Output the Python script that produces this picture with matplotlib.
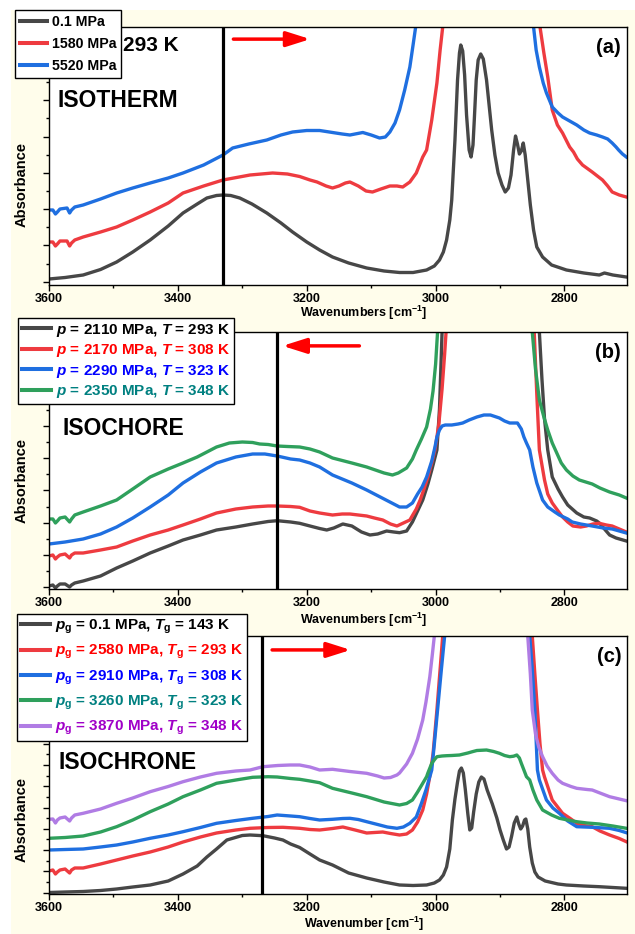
import numpy as np
import matplotlib
matplotlib.use("Agg")
import matplotlib.pyplot as plt
from matplotlib.ticker import MultipleLocator
from matplotlib.patches import Rectangle

plt.rcParams['font.family'] = ['Liberation Sans', 'DejaVu Sans']
plt.rcParams['font.weight'] = 'bold'
plt.rcParams['mathtext.fontset'] = 'custom'
plt.rcParams['mathtext.rm'] = 'Liberation Sans:bold'
plt.rcParams['mathtext.it'] = 'Liberation Sans:italic:bold'
plt.rcParams['mathtext.bf'] = 'Liberation Sans:bold'

GRAY, RED, BLUE, GREEN, PURPLE = '#474747', '#ee3b40', '#1f6fe0', '#2fa05c', '#b07ce4'
CREAM = '#fffdeb'

# ---- (a) isotherm, 293 K : (wavenumber, absorbance a.u.) ----
a_01 = [(3600, 6), (3575, 7.5), (3547, 10), (3520, 15.5), (3495, 23), (3470, 33), (3443, 45), (3415, 59),
        (3392, 72), (3370, 81), (3355, 87), (3340, 89.5), (3330, 90), (3318, 89.5), (3304, 87), (3285, 81),
        (3262, 72), (3240, 62), (3222, 53), (3200, 43), (3180, 35), (3160, 28), (3135, 22), (3107, 17),
        (3080, 14), (3056, 12.5), (3035, 12.5), (3014, 15), (3002, 19), (2994, 25), (2988, 33), (2983, 45),
        (2978, 65), (2975, 85), (2970, 145), (2966, 205), (2963, 232), (2961, 240), (2958, 234), (2955, 210),
        (2952, 170), (2948, 135), (2945, 128), (2942, 140), (2940, 165), (2937, 205), (2934, 225), (2930, 231),
        (2926, 226), (2921, 205), (2917, 180), (2913, 155), (2908, 130), (2903, 112), (2897, 100), (2892, 93),
        (2887, 97), (2883, 110), (2879, 135), (2876, 149), (2873, 141), (2870, 131), (2867, 134), (2864, 142),
        (2861, 130), (2857, 105), (2853, 80), (2848, 55), (2843, 38),
        (2834, 28), (2820, 20), (2797, 15), (2770, 12), (2746, 10), (2738, 12), (2725, 10), (2704, 8)]
a_1580 = [(3600, 43), (3594, 43), (3590, 39), (3587, 41), (3583, 44), (3572, 44), (3568, 39), (3565, 42),
          (3560, 45), (3547, 48), (3520, 53), (3495, 58), (3470, 65), (3443, 73), (3415, 82), (3392, 92),
          (3360, 99), (3330, 105), (3288, 110), (3253, 112), (3230, 111), (3211, 108.5), (3195, 105),
          (3184, 103), (3170, 99), (3160, 97), (3150, 99), (3140, 102), (3133, 103), (3120, 99), (3108, 94),
          (3098, 93), (3085, 96), (3071, 99), (3060, 99), (3051, 98), (3040, 103), (3030, 112), (3020, 128),
          (3014, 135), (3006, 165), (2998, 202), (2993, 235), (2989, 258), (2985, 300),
          (2845, 300), (2838, 258), (2832, 232), (2826, 208), (2819, 175), (2811, 160), (2803, 152),
          (2792, 138), (2786, 133), (2780, 126), (2772, 120), (2757, 113), (2741, 105), (2733, 99),
          (2726, 93), (2715, 90), (2704, 88)]
a_5520 = [(3600, 75), (3594, 75), (3590, 71), (3587, 73), (3583, 76), (3572, 77), (3568, 72), (3565, 75),
          (3560, 78), (3547, 80), (3520, 86), (3495, 92), (3470, 97), (3443, 102), (3415, 107), (3392, 112),
          (3360, 120), (3330, 130), (3315, 137), (3290, 141), (3262, 145), (3240, 150), (3222, 153),
          (3200, 154.5), (3180, 154.5), (3160, 152.5), (3145, 151), (3133, 150), (3113, 152.5), (3100, 150),
          (3087, 147), (3078, 148), (3071, 153), (3063, 162), (3056, 175), (3048, 195), (3040, 218),
          (3035, 240), (3031, 258), (3027, 300),
          (2856, 300), (2848, 258), (2844, 235), (2839, 218), (2833, 202), (2828, 192), (2819, 178),
          (2810, 172), (2803, 168), (2792, 164), (2781, 160), (2770, 155), (2761, 152), (2750, 150),
          (2741, 148), (2733, 146), (2726, 142), (2720, 138), (2716, 135), (2710, 131), (2704, 128)]

# ---- (b) isochore ----
b_293 = [(3600, 3), (3594, 4), (3590, 1), (3587, 3), (3583, 5), (3575, 5), (3568, 2), (3565, 4), (3560, 6),
         (3547, 8), (3520, 13), (3495, 21), (3470, 28), (3443, 36), (3415, 43), (3392, 49), (3365, 54),
         (3340, 59), (3310, 62), (3284, 65), (3260, 67.5), (3246, 68.3), (3225, 67), (3211, 65.7), (3195, 63),
         (3180, 60.5), (3169, 59), (3158, 61), (3144, 65), (3130, 63), (3115, 57), (3102, 54), (3090, 55),
         (3076, 58), (3065, 57), (3056, 56.3), (3045, 58), (3036, 67), (3028, 78), (3020, 89), (3012, 105),
         (3006, 119), (2998, 139), (2994, 180), (2990, 257), (2987, 265),
         (2843, 265), (2839, 257), (2835, 210), (2831, 170), (2826, 139), (2819, 112), (2810, 100),
         (2803, 92), (2795, 84), (2781, 76), (2770, 72), (2761, 71), (2750, 68), (2746, 66), (2738, 60),
         (2730, 54), (2720, 51), (2704, 48)]
b_308 = [(3600, 33), (3594, 34), (3590, 30), (3587, 32), (3583, 34), (3575, 35), (3568, 31), (3565, 34),
         (3560, 36), (3547, 36), (3520, 39), (3495, 42), (3470, 48), (3443, 54), (3415, 59), (3392, 64),
         (3365, 70), (3340, 76), (3310, 80), (3284, 82), (3260, 83), (3246, 83), (3225, 82.5), (3211, 81.7),
         (3195, 78), (3180, 76), (3160, 74), (3145, 75), (3133, 75), (3120, 74), (3107, 73), (3095, 71),
         (3082, 69), (3070, 65), (3060, 63), (3050, 66), (3040, 69), (3030, 80), (3024, 89), (3018, 100),
         (3012, 112), (3006, 126), (3001, 139), (2995, 165), (2990, 200), (2986, 235), (2983, 265),
         (2850, 265), (2847, 257), (2843, 195), (2839, 139), (2831, 109), (2826, 95), (2819, 86), (2810, 78),
         (2803, 72), (2795, 67), (2787, 63), (2775, 62), (2766, 63), (2756, 65), (2746, 65.7), (2735, 64),
         (2726, 63), (2715, 60), (2704, 57)]
b_323 = [(3600, 45), (3575, 47), (3547, 50), (3520, 55), (3495, 62), (3470, 71), (3443, 82), (3415, 94),
         (3392, 106), (3365, 117), (3340, 126), (3310, 132), (3284, 135), (3265, 135), (3246, 133),
         (3225, 130), (3211, 129), (3195, 126), (3180, 122), (3160, 114), (3130, 106), (3107, 99), (3080, 90),
         (3056, 82), (3045, 82), (3036, 86), (3028, 95), (3021, 102), (3014, 112), (3006, 128), (3001, 142),
         (2998, 152), (2994, 159), (2990, 163), (2985, 164), (2975, 164), (2965, 165), (2958, 166),
         (2948, 169), (2936, 172), (2925, 174), (2915, 174), (2901, 171), (2893, 168), (2885, 166),
         (2878, 166), (2873, 166), (2867, 160), (2863, 152), (2859, 146), (2854, 139), (2849, 122),
         (2843, 106), (2834, 89), (2826, 82), (2815, 77), (2808, 74), (2795, 70), (2788, 67), (2775, 65),
         (2757, 63), (2740, 61), (2726, 60), (2715, 58), (2704, 56)]
b_348 = [(3600, 70), (3594, 70), (3590, 66), (3587, 68), (3583, 71), (3575, 72), (3568, 67), (3565, 70),
         (3560, 74), (3547, 77), (3520, 83), (3495, 89), (3470, 100), (3443, 112), (3415, 120), (3392, 126),
         (3370, 132), (3355, 137), (3340, 142), (3320, 146), (3300, 147), (3284, 146.5), (3273, 145),
         (3260, 144.5), (3246, 143), (3230, 142.5), (3211, 142), (3195, 140), (3180, 137), (3160, 131),
         (3130, 126), (3107, 122), (3080, 116), (3067, 114), (3058, 116), (3045, 121), (3036, 130),
         (3030, 139), (3022, 150), (3014, 162), (3008, 180), (3004, 198), (3000, 225), (2997, 257), (2995, 265),
         (2853, 265), (2850, 257), (2845, 220), (2839, 189), (2832, 172), (2826, 159), (2819, 146),
         (2812, 136), (2805, 126), (2797, 119), (2787, 113), (2777, 109), (2767, 107), (2757, 105),
         (2745, 101), (2730, 97), (2715, 94), (2704, 91)]

# ---- (c) isochrone ----
c_143 = [(3600, 1.5), (3575, 2), (3547, 2.5), (3520, 3.5), (3495, 5), (3470, 7), (3443, 9), (3415, 13),
         (3392, 20), (3370, 28), (3355, 37), (3340, 45), (3324, 54), (3300, 58.5), (3288, 59), (3268, 58.3),
         (3250, 56), (3237, 54), (3225, 50), (3211, 46.5), (3195, 40), (3180, 34), (3160, 29), (3135, 21),
         (3107, 16), (3080, 12), (3056, 9), (3035, 8.5), (3014, 9), (3002, 11), (2994, 14), (2988, 19),
         (2983, 27), (2978, 45), (2974, 74), (2970, 95), (2966, 112), (2963, 123), (2960, 126), (2957, 121),
         (2954, 105), (2950, 80), (2947, 64), (2944, 66), (2941, 82), (2937, 100), (2933, 112), (2929, 117),
         (2925, 115), (2920, 104), (2912, 90), (2905, 76), (2900, 64), (2895, 54), (2890, 45), (2886, 47),
         (2882, 58), (2878, 71), (2874, 77), (2871, 70), (2868, 65), (2865, 68), (2862, 74), (2860, 75),
         (2857, 65), (2854, 47), (2850, 31), (2846, 22), (2841, 17), (2830, 13), (2810, 10), (2797, 9),
         (2770, 8), (2746, 7.3), (2725, 6.5), (2704, 5.7)]
c_293 = [(3600, 23), (3594, 24), (3590, 20), (3587, 22), (3583, 24), (3575, 25), (3568, 21), (3565, 24),
         (3560, 26), (3547, 26), (3520, 30), (3495, 34), (3470, 38), (3443, 42), (3415, 47), (3392, 52),
         (3365, 57), (3340, 61), (3310, 64), (3288, 65.7), (3260, 66.5), (3237, 66.7), (3211, 65.7),
         (3195, 64.5), (3180, 64), (3160, 65.5), (3144, 67), (3125, 64), (3107, 61), (3095, 61.5), (3082, 62),
         (3070, 60.5), (3056, 59), (3045, 60), (3036, 64), (3028, 72), (3020, 84), (3014, 100), (3009, 118),
         (3004, 140), (2998, 184), (2993, 225), (2989, 258), (2986, 275),
         (2853, 275), (2850, 258), (2846, 220), (2842, 184), (2838, 150), (2834, 124), (2831, 117),
         (2819, 94), (2803, 80.7), (2790, 75), (2781, 70.7), (2770, 68.5), (2757, 67.3), (2745, 63),
         (2730, 59), (2715, 55.5), (2704, 52.3)]
c_308 = [(3600, 44), (3575, 44.5), (3547, 45), (3520, 47), (3495, 49), (3470, 52), (3443, 55.7), (3415, 59),
         (3392, 62.3), (3365, 66.5), (3340, 70.7), (3310, 73.5), (3284, 75.7), (3260, 77.5), (3246, 79),
         (3225, 78), (3211, 77.3), (3195, 75.5), (3180, 74), (3160, 74.7), (3144, 75.5), (3133, 75.7),
         (3120, 74.5), (3107, 72.3), (3090, 69.5), (3075, 67), (3060, 65.7), (3050, 67), (3040, 70.7),
         (3030, 77), (3022, 90.7), (3015, 104), (3009, 117.3), (3006, 124), (3002, 150), (2997, 184),
         (2991, 225), (2986, 258), (2983, 275),
         (2857, 275), (2854, 258), (2850, 225), (2846, 184), (2842, 124), (2839, 114), (2828, 94),
         (2818, 86), (2808, 80.7), (2795, 73), (2781, 67.3), (2757, 66.7), (2730, 65.7), (2715, 63.5),
         (2704, 61.3)]
c_323 = [(3600, 55.7), (3575, 56.5), (3547, 58), (3520, 62), (3495, 67.3), (3470, 74), (3443, 82.3),
         (3415, 90), (3392, 97.3), (3365, 104), (3340, 110.7), (3310, 114), (3284, 116.7), (3260, 117.3),
         (3246, 117), (3225, 115.5), (3211, 114.7), (3195, 113), (3180, 111.3), (3160, 105.7), (3130, 101),
         (3107, 97.3), (3080, 92), (3056, 89), (3045, 90.5), (3036, 94), (3028, 102), (3020, 110.7),
         (3014, 117.3), (3012, 121), (3006, 130.7), (3001, 135), (2998, 137.3), (2990, 138), (2983, 138.3),
         (2975, 138.5), (2963, 139), (2950, 141), (2943, 142.3), (2936, 143.5), (2921, 144), (2910, 142.5),
         (2901, 140.7), (2893, 138.5), (2885, 137.3), (2879, 137.8), (2874, 139), (2870, 136), (2867, 130.7),
         (2863, 124), (2859, 117.3), (2854, 114), (2849, 104), (2843, 94), (2834, 84), (2820, 79),
         (2808, 75.7), (2795, 74), (2781, 72.3), (2765, 71), (2746, 70), (2725, 68), (2704, 65.7)]
c_348 = [(3600, 74.7), (3594, 75), (3590, 71), (3587, 74), (3583, 76), (3575, 77), (3568, 73), (3565, 76),
         (3560, 79), (3547, 80.7), (3520, 85), (3495, 90.7), (3470, 96), (3443, 102.3), (3415, 107.5),
         (3392, 112.3), (3365, 117), (3340, 120.7), (3310, 123), (3288, 124), (3268, 127.3), (3245, 128.5),
         (3226, 129), (3211, 129), (3195, 127), (3180, 124), (3160, 124.7), (3133, 122.5), (3107, 120.7),
         (3090, 118), (3080, 116), (3070, 116.5), (3060, 119), (3056, 121), (3045, 130), (3036, 140.7),
         (3028, 155), (3020, 174), (3015, 192), (3009, 217.3), (3005, 240), (3002, 258), (2999, 275),
         (2860, 275), (2857, 258), (2853, 220), (2850, 184), (2845, 160), (2840, 147), (2834, 137.3),
         (2827, 128), (2819, 120.7), (2810, 114), (2803, 110.7), (2790, 107.5), (2781, 105.7),
         (2765, 104.5), (2757, 104), (2745, 101), (2730, 97.3), (2715, 95), (2704, 93.3)]

labels_a = ['0.1 MPa', '1580 MPa', '5520 MPa']
labels_b = ['$p$ = 2110 MPa, $T$ = 293 K', '$p$ = 2170 MPa, $T$ = 308 K',
            '$p$ = 2290 MPa, $T$ = 323 K', '$p$ = 2350 MPa, $T$ = 348 K']
labels_c = [r'$p_\mathrm{g}$ = 0.1 MPa, $T_\mathrm{g}$ = 143 K', r'$p_\mathrm{g}$ = 2580 MPa, $T_\mathrm{g}$ = 293 K',
            r'$p_\mathrm{g}$ = 2910 MPa, $T_\mathrm{g}$ = 308 K', r'$p_\mathrm{g}$ = 3260 MPa, $T_\mathrm{g}$ = 323 K',
            r'$p_\mathrm{g}$ = 3870 MPa, $T_\mathrm{g}$ = 348 K']
marker_wn = [3330, 3246, 3270]

W, H = 635, 934
fig = plt.figure(figsize=(W / 100, H / 100), dpi=100, facecolor='white')
fig.add_artist(Rectangle((11 / W, 0), 1, 1 - 10 / H, transform=fig.transFigure,
                         facecolor=CREAM, edgecolor='none', zorder=-5))


def px_axes(top, bottom):
    return fig.add_axes([49 / W, 1 - bottom / H, 578 / W, (bottom - top) / H])


def panel(ax, curves, colors, labels, text_colors, marker, ylim, ystep, yoff,
          letter, title, arrow, leg_xy, leg_fs, leg_bp, leg_ls, xlabel, xlab_y, ylab_y):
    for data, c, lab in zip(curves, colors, labels):
        d = np.array(data).T
        ax.plot(d[0], d[1], color=c, lw=2.4, label=lab, solid_joinstyle='round')
    ax.axvline(marker, color='black', lw=2.3)
    ax.set_xlim(3600, 2703)
    ax.set_ylim(0, ylim)
    ax.xaxis.set_major_locator(MultipleLocator(200))
    ax.xaxis.set_minor_locator(MultipleLocator(100))
    ax.yaxis.set_major_locator(MultipleLocator(ystep, offset=yoff))
    ax.yaxis.set_minor_locator(MultipleLocator(ystep / 2, offset=yoff))
    ax.tick_params(which='both', direction='out', top=False, right=False, labelleft=False,
                   width=1, labelsize=9, pad=1.5)
    ax.tick_params(which='major', length=4)
    ax.tick_params(which='minor', length=2.5)
    for lab in ax.get_xticklabels():
        lab.set_fontweight('bold')
    for s in ax.spines.values():
        s.set_linewidth(1.0)
    ax.set_xlabel(xlabel, fontsize=9, fontweight='bold', va='center')
    ax.xaxis.set_label_coords(0.545, xlab_y)
    ax.set_ylabel('Absorbance', fontsize=10.5, fontweight='bold', va='center')
    ax.yaxis.set_label_coords(-0.047, ylab_y)
    ax.text(0.99, 0.92, letter, transform=ax.transAxes, ha='right', va='center',
            fontsize=14.5, fontweight='bold')
    ax.text(title[1], title[2], title[0], transform=ax.transAxes, ha='left', va='center',
            fontsize=16.5, fontweight='bold')
    ax.annotate('', xy=(arrow[1], arrow[2]), xytext=(arrow[0], arrow[2]),
                xycoords='axes fraction', textcoords='axes fraction',
                arrowprops=dict(arrowstyle='-|>,head_length=1.2,head_width=0.38',
                                color='red', lw=2.5, mutation_scale=12, shrinkA=0, shrinkB=0))
    leg = ax.legend(loc='upper left', bbox_to_anchor=leg_xy, bbox_transform=fig.transFigure,
                    prop={'weight': 'bold', 'size': leg_fs}, frameon=True,
                    fancybox=False, framealpha=1, edgecolor='black', borderpad=leg_bp,
                    handlelength=1.9, handletextpad=0.35, labelspacing=leg_ls, borderaxespad=0)
    leg.get_frame().set_linewidth(1.0)
    for t, c in zip(leg.get_texts(), text_colors):
        t.set_color(c)
    for h in leg.get_lines():
        h.set_linewidth(2.9)
    return ax


ax_a = px_axes(27, 285)
panel(ax_a, [a_01, a_1580, a_5520], [GRAY, RED, BLUE], labels_a, ['black'] * 3,
      marker_wn[0], 258, 36.3, 3.3, '(a)', ('ISOTHERM', 0.014, 0.717),
      (0.319, 0.452, 0.953), (15 / W, 1 - 10 / H), 10.2, 0.33, 0.59,
      r'Wavenumbers [cm$^{-1}$]', -0.1085, 0.388)
ax_a.text(0.128, 0.930, '293 K', transform=ax_a.transAxes, ha='left', va='center',
          fontsize=15, fontweight='bold')

ax_b = px_axes(332, 589)
panel(ax_b, [b_293, b_308, b_323, b_348], [GRAY, RED, BLUE, GREEN], labels_b,
      ['black', '#ff0000', '#0000ff', '#008080'],
      marker_wn[1], 257, 32.2, 2, '(b)', ('ISOCHORE', 0.0225, 0.626),
      (0.537, 0.404, 0.946), (18 / W, 1 - 318 / H), 11, 0.25, 0.225,
      r'Wavenumbers [cm$^{-1}$]', -0.1206, 0.424)

ax_c = px_axes(636, 894)
panel(ax_c, [c_143, c_293, c_308, c_323, c_348], [GRAY, RED, BLUE, GREEN, PURPLE], labels_c,
      ['black', '#ff0000', '#0000ff', '#008080', '#a000c8'],
      marker_wn[2], 258, 21.3, 1.3, '(c)', ('ISOCHRONE', 0.0156, 0.508),
      (0.386, 0.522, 0.946), (17 / W, 1 - 614 / H), 11, 0.25, 0.46,
      r'Wavenumber [cm$^{-1}$]', -0.116, 0.287)

fig.savefig('out.png', dpi=100, facecolor=fig.get_facecolor())
